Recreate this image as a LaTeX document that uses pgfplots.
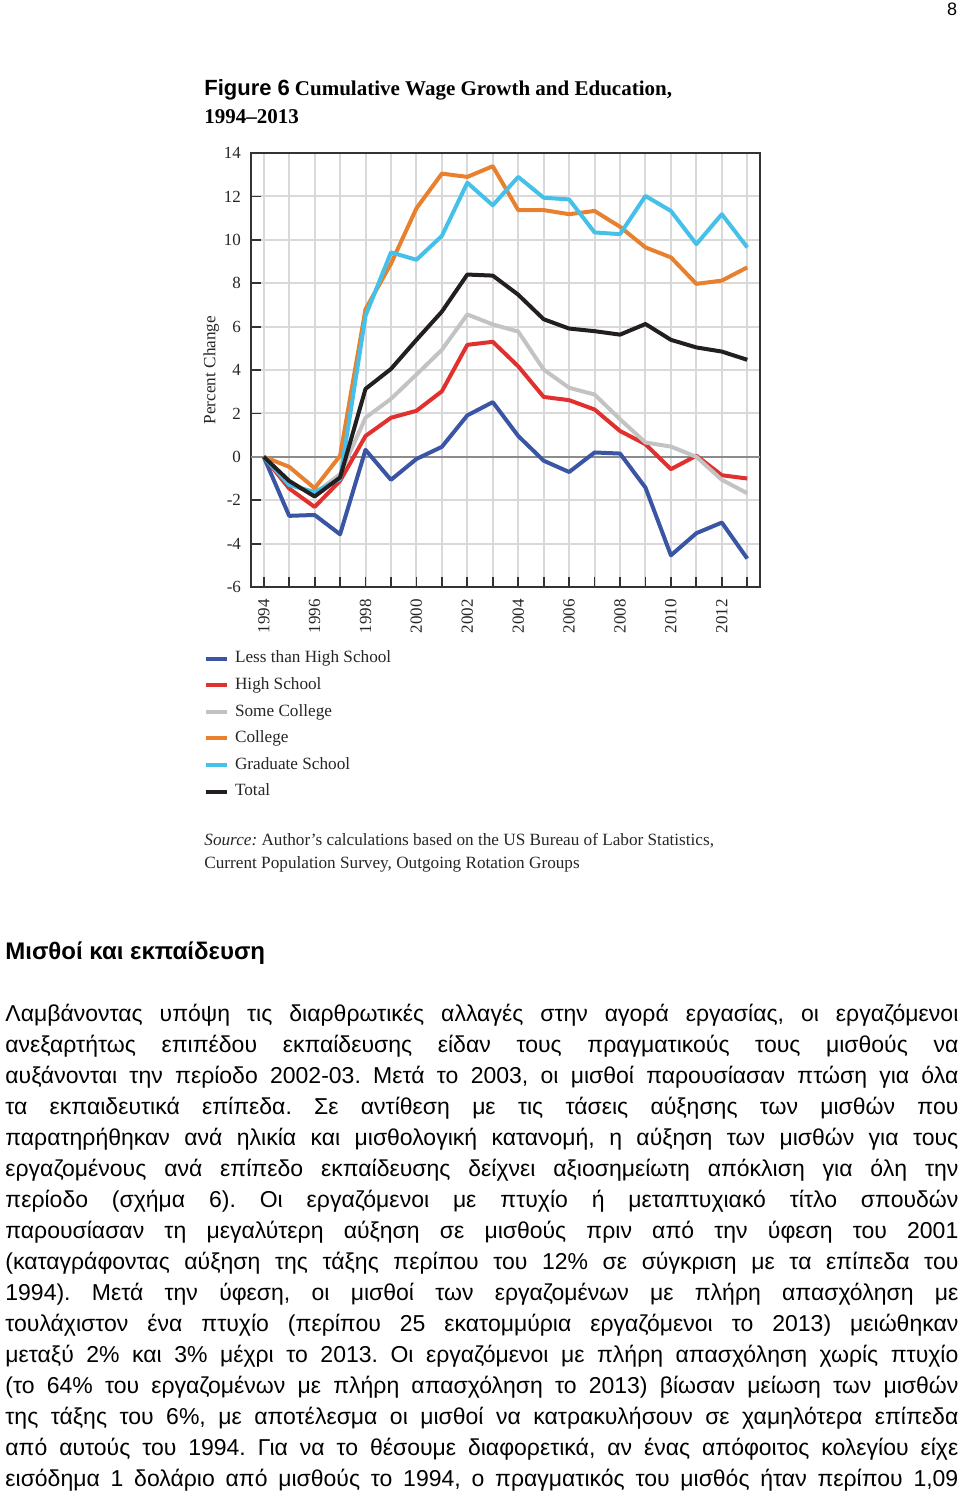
\documentclass[border=0pt]{standalone}
\usepackage{fontspec}
\setmainfont{Liberation Serif}
\newfontfamily\sansgr{Liberation Sans}
\usepackage{pgfplots}
\pgfplotsset{compat=1.18}
\definecolor{cblue}{HTML}{3A55A4}
\definecolor{cred}{HTML}{E0312F}
\definecolor{cgray}{HTML}{C3C3C3}
\definecolor{corange}{HTML}{E8812F}
\definecolor{ccyan}{HTML}{45C0E8}
\definecolor{cblack}{HTML}{231F20}
\definecolor{gridc}{HTML}{D9D9D9}
\definecolor{framec}{HTML}{333333}
\newcommand{\bodyline}[1]{\makebox[476.5pt][s]{#1}}
\frenchspacing
\begin{document}
\frenchspacing
\begin{tikzpicture}
\begin{axis}[
  scale only axis,
  width=254.5pt, height=217pt,
  at={(125.5pt,-293.5pt)}, anchor=south west,
  xmin=1993.5, xmax=2013.5, ymin=-6, ymax=14,
  xtick={1994,1995,...,2013},
  xticklabels={\textrm{1994},,\textrm{1996},,\textrm{1998},,\textrm{2000},,\textrm{2002},,\textrm{2004},,\textrm{2006},,\textrm{2008},,\textrm{2010},,\textrm{2012},},
  ytick={-6,-4,...,14},
  xtick pos=bottom, ytick pos=left,
  tick align=inside, major tick length=5pt,
  tick style={color=framec, line width=0.9pt},
  grid=major,
  major grid style={color=gridc, line width=1pt},
  axis line style={color=framec, line width=1.3pt},
  /pgf/number format/assume math mode=true,
  ticklabel style={font=\fontsize{8.5}{10}\selectfont, color=black!85},
  xticklabel style={rotate=90, anchor=east},
  xticklabel shift={2.5pt},
  yticklabel style={xshift=-1.5pt},
  ylabel={Percent Change},
  ylabel style={at={(axis description cs:-0.078,0.5)}, anchor=center, font=\fontsize{8.6}{10}\selectfont, color=black!85},
  extra y ticks={0}, extra y tick labels={},
  extra y tick style={major grid style={color=black!45, line width=1pt}, tick style={draw=none}},
  legend style={at={(axis description cs:-0.093,-0.145)}, anchor=north west, draw=none, fill=none, inner sep=0pt,
    font=\fontsize{8.6}{10}\selectfont, row sep=5pt,
    nodes={inner sep=0pt, text height=6.3pt, text depth=2pt, text=black!85},
    /tikz/every odd column/.style={column sep=3pt}},
  legend cell align=left,
  legend image code/.code={\draw[#1, line width=2pt] (0pt,0pt) -- (10.5pt,0pt);},
  every axis plot/.append style={line width=2pt, line join=round, mark=none},
]
\addplot[cblue] coordinates {(1994,0)(1995,-2.72)(1996,-2.68)(1997,-3.57)(1998,0.32)(1999,-1.06)(2000,-0.1)(2001,0.46)(2002,1.91)(2003,2.52)(2004,0.96)(2005,-0.18)(2006,-0.7)(2007,0.2)(2008,0.15)(2009,-1.42)(2010,-4.54)(2011,-3.52)(2012,-3.03)(2013,-4.69)};
\addlegendentry{Less than High School}
\addplot[cred] coordinates {(1994,0)(1995,-1.46)(1996,-2.31)(1997,-1.11)(1998,0.96)(1999,1.8)(2000,2.12)(2001,3.02)(2002,5.16)(2003,5.3)(2004,4.17)(2005,2.76)(2006,2.61)(2007,2.18)(2008,1.19)(2009,0.58)(2010,-0.57)(2011,0.05)(2012,-0.85)(2013,-1.0)};
\addlegendentry{High School}
\addplot[cgray] coordinates {(1994,0)(1995,-1.25)(1996,-1.7)(1997,-0.8)(1998,1.8)(1999,2.67)(2000,3.79)(2001,4.93)(2002,6.56)(2003,6.1)(2004,5.77)(2005,4.02)(2006,3.18)(2007,2.87)(2008,1.73)(2009,0.66)(2010,0.47)(2011,0.0)(2012,-1.06)(2013,-1.68)};
\addlegendentry{Some College}
\addplot[corange] coordinates {(1994,0)(1995,-0.46)(1996,-1.45)(1997,0.05)(1998,6.8)(1999,8.9)(2000,11.45)(2001,13.05)(2002,12.9)(2003,13.39)(2004,11.37)(2005,11.37)(2006,11.18)(2007,11.33)(2008,10.6)(2009,9.65)(2010,9.19)(2011,7.97)(2012,8.12)(2013,8.73)};
\addlegendentry{College}
\addplot[ccyan] coordinates {(1994,0)(1995,-1.3)(1996,-1.62)(1997,-1.03)(1998,6.5)(1999,9.42)(2000,9.08)(2001,10.18)(2002,12.63)(2003,11.59)(2004,12.9)(2005,11.94)(2006,11.86)(2007,10.34)(2008,10.26)(2009,12.02)(2010,11.33)(2011,9.8)(2012,11.18)(2013,9.65)};
\addlegendentry{Graduate School}
\addplot[cblack] coordinates {(1994,0)(1995,-1.11)(1996,-1.83)(1997,-0.95)(1998,3.13)(1999,4.05)(2000,5.39)(2001,6.69)(2002,8.4)(2003,8.35)(2004,7.47)(2005,6.34)(2006,5.91)(2007,5.79)(2008,5.63)(2009,6.12)(2010,5.39)(2011,5.04)(2012,4.85)(2013,4.47)};
\addlegendentry{Total}
\end{axis}
\begin{scope}[x=0.5pt,y=-0.5pt]
\node[anchor=center, inner sep=0pt, font=\sansgr\fontsize{9}{10}\selectfont] at (952,9) {8};
\node[anchor=base west, inner sep=0pt] at (204,95.5) {{\sansgr\bfseries\fontsize{11}{13}\selectfont Figure 6} {\bfseries\fontsize{10.5}{13}\selectfont Cumulative Wage Growth and Education,}};
\node[anchor=base west, inner sep=0pt, font=\bfseries\fontsize{10.5}{13}\selectfont] at (204,123.5) {1994--2013};
\node[anchor=base west, inner sep=0pt, font=\fontsize{8.6}{10}\selectfont, text=black!85] at (204,845) {\textit{Source:}\ Author’s calculations based on the US Bureau of Labor Statistics,};
\node[anchor=base west, inner sep=0pt, font=\fontsize{8.6}{10}\selectfont, text=black!85] at (204,868) {Current Population Survey, Outgoing Rotation Groups};
\node[anchor=base west, inner sep=0pt, font=\sansgr\bfseries\fontsize{12}{14}\selectfont] at (5,959) {Μισθοί και εκπαίδευση};
\begin{scope}[every node/.style={anchor=base west, inner sep=0pt, font=\sansgr\fontsize{11.5}{14}\selectfont\frenchspacing}]
\node at (5,1021) {\bodyline{Λαμβάνοντας υπόψη τις διαρθρωτικές αλλαγές στην αγορά εργασίας, οι εργαζόμενοι}};
\node at (5,1052) {\bodyline{ανεξαρτήτως επιπέδου εκπαίδευσης είδαν τους πραγματικούς τους μισθούς να}};
\node at (5,1083) {\bodyline{αυξάνονται την περίοδο 2002-03. Μετά το 2003, οι μισθοί παρουσίασαν πτώση για όλα}};
\node at (5,1114) {\bodyline{τα εκπαιδευτικά επίπεδα. Σε αντίθεση με τις τάσεις αύξησης των μισθών που}};
\node at (5,1145) {\bodyline{παρατηρήθηκαν ανά ηλικία και μισθολογική κατανομή, η αύξηση των μισθών για τους}};
\node at (5,1176) {\bodyline{εργαζομένους ανά επίπεδο εκπαίδευσης δείχνει αξιοσημείωτη απόκλιση για όλη την}};
\node at (5,1207) {\bodyline{περίοδο (σχήμα 6). Οι εργαζόμενοι με πτυχίο ή μεταπτυχιακό τίτλο σπουδών}};
\node at (5,1238) {\bodyline{παρουσίασαν τη μεγαλύτερη αύξηση σε μισθούς πριν από την ύφεση του 2001}};
\node at (5,1269) {\bodyline{(καταγράφοντας αύξηση της τάξης περίπου του 12\% σε σύγκριση με τα επίπεδα του}};
\node at (5,1300) {\bodyline{1994). Μετά την ύφεση, οι μισθοί των εργαζομένων με πλήρη απασχόληση με}};
\node at (5,1331) {\bodyline{τουλάχιστον ένα πτυχίο (περίπου 25 εκατομμύρια εργαζόμενοι το 2013) μειώθηκαν}};
\node at (5,1362) {\bodyline{μεταξύ 2\% και 3\% μέχρι το 2013. Οι εργαζόμενοι με πλήρη απασχόληση χωρίς πτυχίο}};
\node at (5,1393) {\bodyline{(το 64\% του εργαζομένων με πλήρη απασχόληση το 2013) βίωσαν μείωση των μισθών}};
\node at (5,1424) {\bodyline{της τάξης του 6\%, με αποτέλεσμα οι μισθοί να κατρακυλήσουν σε χαμηλότερα επίπεδα}};
\node at (5,1455) {\bodyline{από αυτούς του 1994. Για να το θέσουμε διαφορετικά, αν ένας απόφοιτος κολεγίου είχε}};
\node at (5,1486) {\bodyline{εισόδημα 1 δολάριο από μισθούς το 1994, ο πραγματικός του μισθός ήταν περίπου 1,09}};
\end{scope}
\end{scope}
\pgfresetboundingbox
\path[use as bounding box] (0pt,0pt) rectangle (480pt,-747.5pt);
\end{tikzpicture}
\end{document}
